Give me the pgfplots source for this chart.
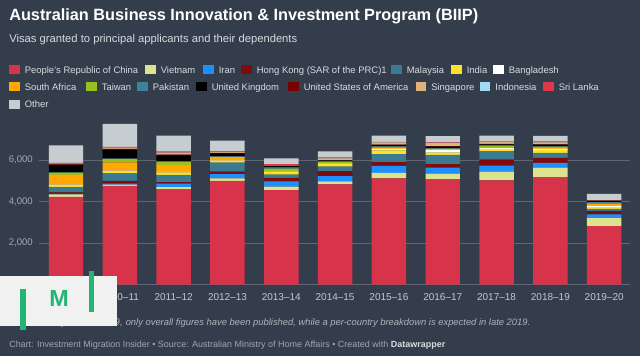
\documentclass[border=0pt]{standalone}
\usepackage{fontspec}
\setmainfont{Liberation Sans}
\usepackage{pgfplots}
\usepackage{pgfplotstable}
\pgfplotsset{compat=1.18}
\usepackage{graphicx}

\definecolor{bg}{HTML}{343D4B}
\definecolor{gridc}{HTML}{5F6672}
\definecolor{ticky}{HTML}{A4AAB2}
\definecolor{tickx}{HTML}{C4C8CD}
\definecolor{subc}{HTML}{D8DBDF}
\definecolor{legc}{HTML}{D8DBDF}
\definecolor{notec}{HTML}{AEB3BA}
\definecolor{srcc}{HTML}{A0A6AD}
\definecolor{logobg}{HTML}{F1F1F1}
\definecolor{logog}{HTML}{22B573}

\definecolor{cChina}{HTML}{D7334A}
\definecolor{cVietnam}{HTML}{DDE28F}
\definecolor{cIran}{HTML}{1E8FFF}
\definecolor{cHK}{HTML}{7F0B0B}
\definecolor{cMalaysia}{HTML}{3B7A93}
\definecolor{cIndia}{HTML}{FFE12B}
\definecolor{cBangladesh}{HTML}{FFFFFF}
\definecolor{cSAfrica}{HTML}{FFA800}
\definecolor{cTaiwan}{HTML}{97C11F}
\definecolor{cPakistan}{HTML}{3C829C}
\definecolor{cUK}{HTML}{000000}
\definecolor{cUSA}{HTML}{780000}
\definecolor{cSingapore}{HTML}{E2B07B}
\definecolor{cIndonesia}{HTML}{A2D9F5}
\definecolor{cSriLanka}{HTML}{E0364D}
\definecolor{cOther}{HTML}{C5CDD1}

\pgfplotstableread{
x china vietnam iran hk malaysia india bangladesh safrica taiwan pakistan uk usa singapore indonesia srilanka other
0 4230 110 30 70 270 80 20 480 100 20 350 30 20 10 40 850
1 4750 60 50 130 370 110 20 400 160 20 430 40 50 10 30 1110
2 4580 110 170 80 350 120 20 340 150 20 290 30 90 10 50 760
3 5000 115 200 130 430 80 20 160 20 20 150 20 40 10 40 500
4 4555 160 260 160 165 120 20 20 120 70 60 20 20 10 40 285
5 4830 140 260 230 220 130 20 20 70 20 40 20 80 10 30 300
6 5110 265 340 185 390 170 80 75 20 20 65 20 110 10 20 300
7 5070 280 280 170 450 110 120 50 20 20 80 20 150 10 20 300
8 5015 430 290 290 390 120 50 20 85 20 45 20 100 10 20 270
9 5175 460 230 240 240 145 50 50 50 20 80 20 95 10 20 275
10 2810 385 180 160 115 80 70 95 20 60 55 10 10 10 10 300
}\data

\begin{document}
\begin{tikzpicture}
\fill[bg] (0,0) rectangle (480pt,267pt);
\useasboundingbox (0,0) rectangle (480pt,267pt);
\begin{axis}[
  at={(29.5pt,53.6pt)}, anchor=south west,
  scale only axis, width=443pt, height=124.5pt,
  xmin=-0.496, xmax=10.48, ymin=0, ymax=8000,
  ybar stacked, bar width=0.64,
  axis line style={draw=none},
  major tick length=0pt,
  ytick={0,2000,4000,6000},
  ymajorgrids,
  major grid style={draw=gridc, line width=0.75pt},
  xtick={0,...,10},
  xticklabels={2009--10,2010--11,2011--12,2012--13,2013--14,2014--15,2015--16,2016--17,2017--18,2018--19,2019--20},
  xticklabel style={font=\fontsize{7.5pt}{8pt}\selectfont, text=tickx, anchor=center, yshift=-9.2pt, inner sep=0pt},
  yticklabel style={font=\fontsize{7.2pt}{8pt}\selectfont, text=ticky, anchor=east, inner sep=0pt, xshift=-4.7pt},
  /pgf/number format/.cd, 1000 sep={,}, assume math mode=true,
]
\addplot[fill=cChina, draw=none] table[x=x,y=china]{\data};
\addplot[fill=cVietnam, draw=none] table[x=x,y=vietnam]{\data};
\addplot[fill=cIran, draw=none] table[x=x,y=iran]{\data};
\addplot[fill=cHK, draw=none] table[x=x,y=hk]{\data};
\addplot[fill=cMalaysia, draw=none] table[x=x,y=malaysia]{\data};
\addplot[fill=cIndia, draw=none] table[x=x,y=india]{\data};
\addplot[fill=cBangladesh, draw=none] table[x=x,y=bangladesh]{\data};
\addplot[fill=cSAfrica, draw=none] table[x=x,y=safrica]{\data};
\addplot[fill=cTaiwan, draw=none] table[x=x,y=taiwan]{\data};
\addplot[fill=cPakistan, draw=none] table[x=x,y=pakistan]{\data};
\addplot[fill=cUK, draw=none] table[x=x,y=uk]{\data};
\addplot[fill=cUSA, draw=none] table[x=x,y=usa]{\data};
\addplot[fill=cSingapore, draw=none] table[x=x,y=singapore]{\data};
\addplot[fill=cIndonesia, draw=none] table[x=x,y=indonesia]{\data};
\addplot[fill=cSriLanka, draw=none] table[x=x,y=srilanka]{\data};
\addplot[fill=cOther, draw=none] table[x=x,y=other]{\data};
\end{axis}

\begin{scope}[x=0.75pt,y=-0.75pt,shift={(0pt,267pt)}]
% title and subtitle
\node[anchor=base west, inner sep=0pt, text=white] at (9,20.7)
  {\resizebox{351.75pt}{!}{\bfseries\fontsize{12.2pt}{14pt}\selectfont Australian Business Innovation \& Investment Program (BIIP)}};
\node[anchor=base west, inner sep=0pt, text=subc] at (9,42.7)
  {\resizebox{216pt}{!}{\fontsize{8.4pt}{10pt}\selectfont Visas granted to principal applicants and their dependents}};
% legend
\foreach \sx/\ry/\c/\t in {
  9/70/cChina/{People's Republic of China},
  145/70/cVietnam/{Vietnam},
  203/70/cIran/{Iran},
  241/70/cHK/{Hong Kong (SAR of the PRC)1},
  391/70/cMalaysia/{Malaysia},
  451/70/cIndia/{India},
  493/70/cBangladesh/{Bangladesh},
  9/87/cSAfrica/{South Africa},
  86/87/cTaiwan/{Taiwan},
  137/87/cPakistan/{Pakistan},
  196/87/cUK/{United Kingdom},
  288/87/cUSA/{United States of America},
  415.5/87/cSingapore/{Singapore},
  479.6/87/cIndonesia/{Indonesia},
  543/87/cSriLanka/{Sri Lanka},
  9/104.3/cOther/{Other}}{
  \fill[\c] (\sx,\ry-4.5) rectangle (\sx+10.5,\ry+4.5);
  \node[anchor=base west, inner sep=0pt, text=legc, font=\fontsize{7.1pt}{8pt}\selectfont] at (\sx+15.5,\ry+3.5) {\t};
}
% notes
\node[anchor=base east, inner sep=0pt, text=notec, font=\itshape\fontsize{7.2pt}{9pt}\selectfont] at (123,325.5)
  {*In the year 2018--19,};
\node[anchor=base west, inner sep=0pt, text=notec] at (125.5,325.5)
  {\resizebox{303.4pt}{!}{\itshape\fontsize{7.2pt}{9pt}\selectfont only overall figures have been published, while a per-country breakdown is expected in late 2019.}};
\node[anchor=base west, inner sep=0pt, text=srcc] at (9,347.3)
  {\resizebox{327pt}{!}{\fontsize{6.8pt}{8pt}\selectfont Chart: Investment Migration Insider \textbullet{} Source: Australian Ministry of Home Affairs \textbullet{} Created with \textcolor{subc}{\bfseries Datawrapper}}};
% logo
\fill[logobg] (0,276) rectangle (117,326);
\fill[logog] (20.4,289) rectangle (25.7,330);
\fill[logog] (89,270.7) rectangle (94,311.7);
\node[text=logog, inner sep=0pt, font=\bfseries\fontsize{17.5pt}{18pt}\selectfont] at (59,298) {M};
\end{scope}
\end{tikzpicture}
\end{document}
